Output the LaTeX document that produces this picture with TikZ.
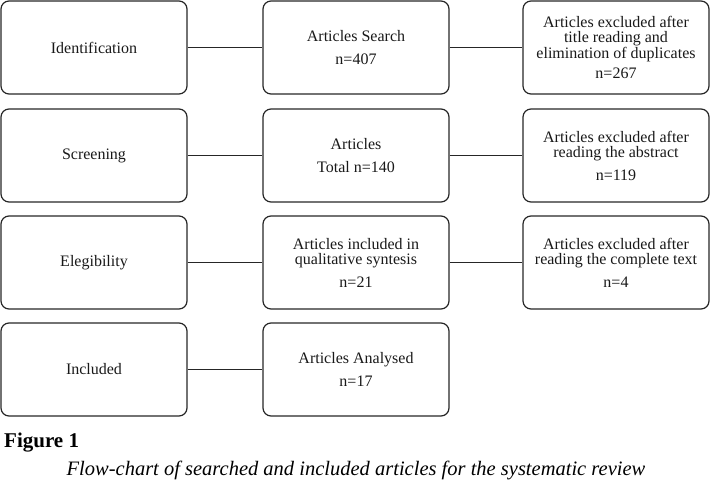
\documentclass[tikz,border=0pt]{standalone}
\usepackage{fontspec}
\setmainfont{Liberation Serif}
\begin{document}
\begin{tikzpicture}[x=1pt,y=-1pt,
  box/.style={draw=black!85, line width=1.2pt, rounded corners=8pt,
    minimum width=186pt, minimum height=93pt, inner sep=0pt,
    align=center, text=black!90,
    font=\fontsize{16}{15.5}\selectfont},
  link/.style={draw=black!85, line width=1.2pt}]
\useasboundingbox (0,0) rectangle (711,481);
\node[box] (id) at (94,47.5) {Identification};
\node[box] (search) at (356,47.5) {Articles Search\\[7pt]n=407};
\node[box] (ex1) at (616,47.5) {Articles excluded after\\title reading and\\elimination of duplicates\\[5pt]n=267};
\node[box] (scr) at (94,155.5) {Screening};
\node[box] (tot) at (356,155.5) {Articles\\[7pt]Total n=140};
\node[box] (ex2) at (616,155.5) {Articles excluded after\\reading the abstract\\[7pt]n=119};
\node[box] (eli) at (94,262.5) {Elegibility};
\node[box] (inc) at (356,262.5) {Articles included in\\qualitative syntesis\\[7pt]n=21};
\node[box] (ex3) at (616,262.5) {Articles excluded after\\reading the complete text\\[7pt]n=4};
\node[box] (incl) at (94,369.5) {Included};
\node[box] (ana) at (356,369.5) {Articles Analysed\\[7pt]n=17};
\draw[link] (id) -- (search);
\draw[link] (search) -- (ex1);
\draw[link] (scr) -- (tot);
\draw[link] (tot) -- (ex2);
\draw[link] (eli) -- (inc);
\draw[link] (inc) -- (ex3);
\draw[link] (incl) -- (ana);
\node[anchor=base west, inner sep=0pt, font=\fontsize{21}{24}\selectfont\bfseries] (fig) at (4,447) {Figure 1};
\node[anchor=base, inner sep=0pt, font=\fontsize{20.5}{24}\selectfont\itshape] (cap) at (356,475) {Flow-chart of searched and included articles for the systematic review};
\end{tikzpicture}
\end{document}
